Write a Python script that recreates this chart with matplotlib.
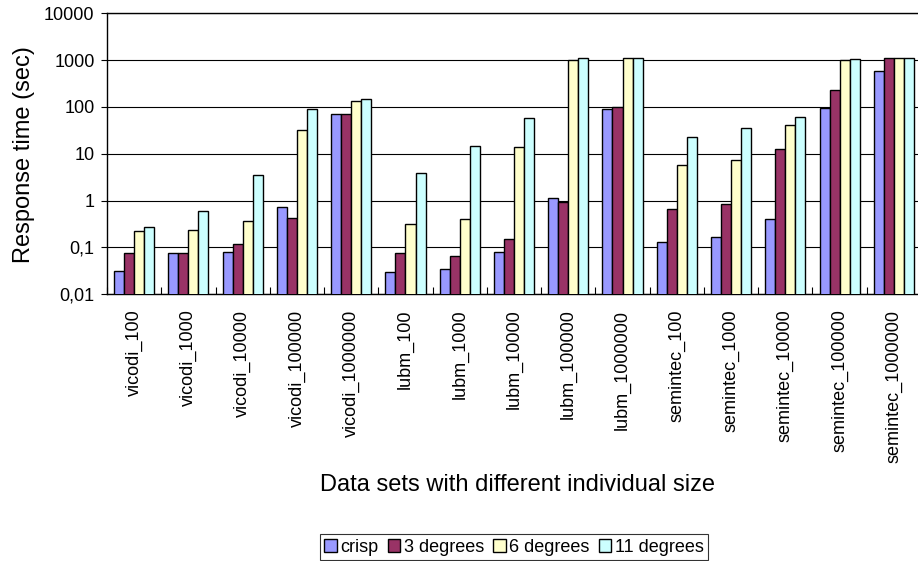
import numpy as np
import matplotlib
matplotlib.use("Agg")
import matplotlib.pyplot as plt

plt.rcParams['font.family'] = ['Liberation Sans', 'DejaVu Sans']

datasets = ["vicodi_100", "vicodi_1000", "vicodi_10000", "vicodi_100000", "vicodi_1000000",
            "lubm_100", "lubm_1000", "lubm_10000", "lubm_100000", "lubm_1000000",
            "semintec_100", "semintec_1000", "semintec_10000", "semintec_100000", "semintec_1000000"]
crisp = [0.032, 0.077, 0.082, 0.72, 72, 0.03, 0.035, 0.081, 1.16, 91, 0.13, 0.17, 0.41, 95, 600]
deg3 = [0.076, 0.077, 0.12, 0.42, 72, 0.078, 0.065, 0.15, 0.93, 98, 0.65, 0.83, 12.8, 226, 1120]
deg6 = [0.22, 0.24, 0.37, 32, 133, 0.31, 0.4, 14, 1000, 1120, 5.8, 7.2, 42, 1000, 1120]
deg11 = [0.27, 0.6, 3.6, 90, 146, 3.9, 15, 58, 1120, 1120, 23, 35, 60, 1050, 1120]

series = [("crisp", crisp, "#9999FF"), ("3 degrees", deg3, "#993366"),
          ("6 degrees", deg6, "#FFFFCC"), ("11 degrees", deg11, "#CCFFFF")]

fig = plt.figure(figsize=(9.18, 5.61), dpi=100)
ax = fig.add_axes([107 / 918, 1 - 294.3 / 561, 814 / 918, (294.3 - 13.3) / 561])

x = np.arange(len(datasets))
w = 0.185
for k, (name, vals, col) in enumerate(series):
    ax.bar(x + (k - 1.5) * w, vals, w, color=col, edgecolor="black", linewidth=1.0,
           label=name, zorder=3)

ax.set_yscale("log")
ax.set_ylim(0.01, 10000)
ax.set_xlim(-0.5, len(datasets) - 0.5)
yt = [0.01, 0.1, 1, 10, 100, 1000, 10000]
ax.set_yticks(yt)
ax.set_yticklabels(["0,01", "0,1", "1", "10", "100", "1000", "10000"], fontsize=13)
ax.yaxis.set_minor_locator(matplotlib.ticker.NullLocator())
ax.tick_params(axis="y", length=4, width=0.8, color="black", pad=5)
ax.grid(axis="y", color="black", linewidth=0.8, zorder=0)

ax.set_xticks(x)
ax.set_xticklabels(datasets, rotation=90, va="top", ha="center", fontsize=13)
ax.tick_params(axis="x", length=0, pad=11)
ax.set_xticks(np.arange(len(datasets) + 1) - 0.5, minor=True)
ax.tick_params(axis="x", which="minor", direction="in", length=5, width=0.8)

for s in ax.spines.values():
    s.set_color("black")
    s.set_linewidth(1.0)

fig.text(24 / 918, 1 - 155 / 561, "Response time (sec)", rotation=90,
         ha="center", va="center", fontsize=17)
fig.text(517 / 918, 1 - 485 / 561, "Data sets with different individual size",
         ha="center", va="center", fontsize=17)

leg = fig.legend(loc="center", bbox_to_anchor=(514 / 918, 1 - 547 / 561), ncol=4,
                 fontsize=13, frameon=True, fancybox=False, edgecolor="black",
                 handlelength=0.7, handleheight=0.7, handletextpad=0.2,
                 columnspacing=0.5, borderpad=0.25, borderaxespad=0)
leg.get_frame().set_linewidth(0.8)

fig.savefig("out.png", dpi=100)
